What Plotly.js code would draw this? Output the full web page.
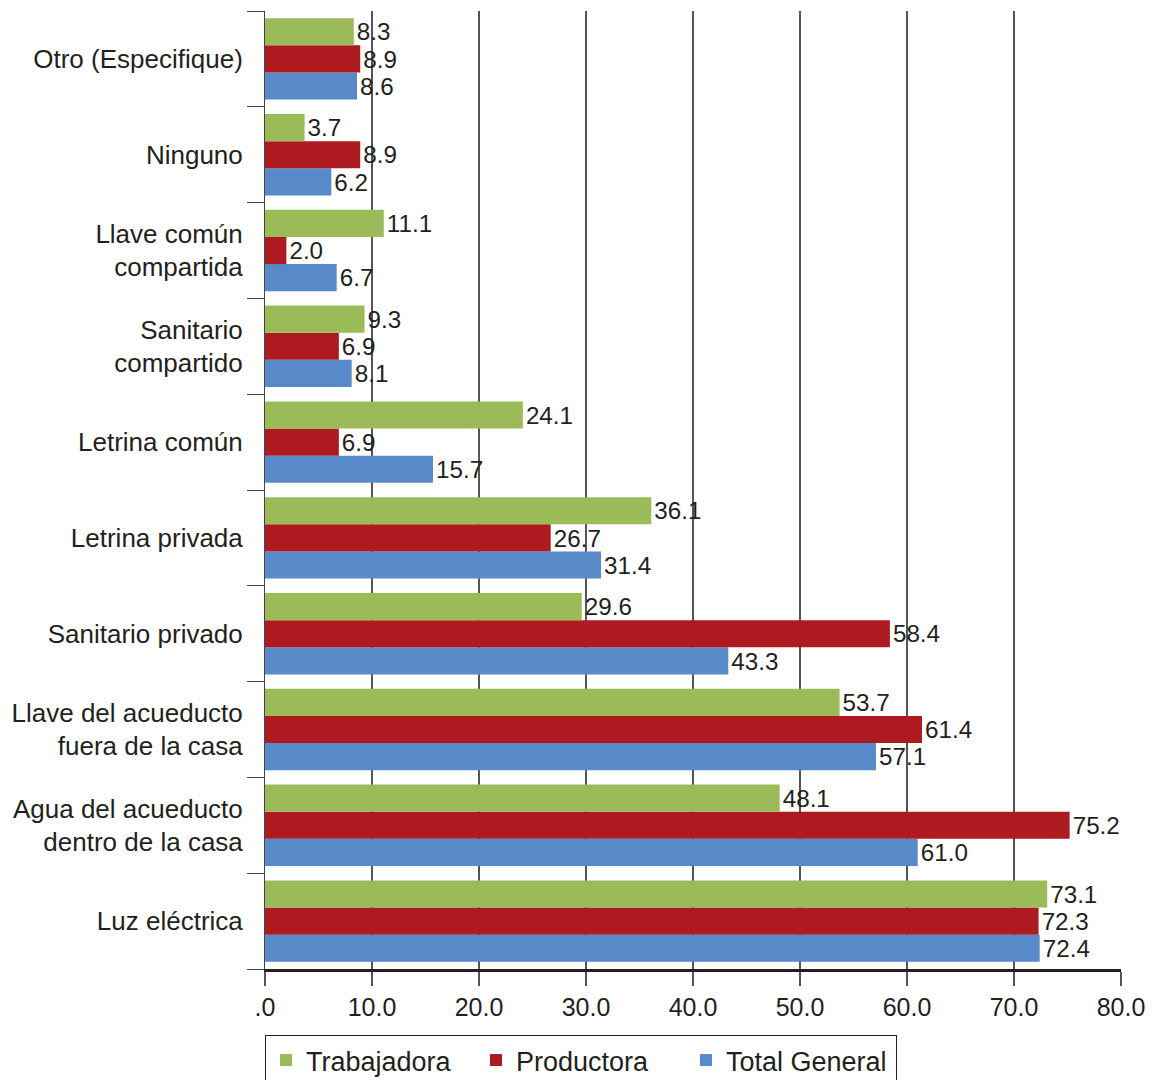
<!DOCTYPE html>
<html>
<head>
<meta charset="utf-8">
<script src="https://cdn.plot.ly/plotly-3.0.1.min.js"></script>
<style>
  body { margin: 0; background: #fff; }
  #chart { width: 1156px; height: 1080px; }
</style>
</head>
<body>
<div id="chart"></div>
<script>
// categories, bottom to top as drawn
var categories = [
  "Luz eléctrica",
  "Agua del acueducto<br>dentro de la casa",
  "Llave del acueducto<br>fuera de la casa",
  "Sanitario privado",
  "Letrina privada",
  "Letrina común",
  "Sanitario<br>compartido",
  "Llave común<br>compartida",
  "Ninguno",
  "Otro (Especifique)"
];

var trabajadora = [73.1, 48.1, 53.7, 29.6, 36.1, 24.1, 9.3, 11.1, 3.7, 8.3];
var productora = [72.3, 75.2, 61.4, 58.4, 26.7, 6.9, 6.9, 2.0, 8.9, 8.9];
var total_general = [72.4, 61.0, 57.1, 43.3, 31.4, 15.7, 8.1, 6.7, 6.2, 8.6];

var tick_vals = [0, 10, 20, 30, 40, 50, 60, 70, 80];
var tick_text = [".0", "10.0", "20.0", "30.0", "40.0", "50.0", "60.0", "70.0", "80.0"];

var font_family = "'Liberation Sans', Arial, sans-serif";

function barTrace(name, values, color) {
  return {
    type: 'bar',
    orientation: 'h',
    name: name,
    y: categories,
    x: values,
    marker: {color: color, line: {width: 0}},
    text: values.map(function (v) { return v.toFixed(1); }),
    textposition: 'outside',
    cliponaxis: false,
    textfont: {size: 25, color: '#231f20', family: font_family}
  };
}

// first trace sits lowest in each group, so blue goes first
var data = [
  barTrace('Total General', total_general, '#5889c8'),
  barTrace('Productora', productora, '#ad1a20'),
  barTrace('Trabajadora', trabajadora, '#9bbb59')
];

var layout = {
  width: 1156,
  height: 1080,
  margin: {l: 265, r: 35, t: 11, b: 111},
  barmode: 'group',
  bargap: 0.15,
  bargroupgap: 0,
  paper_bgcolor: '#fff',
  plot_bgcolor: '#fff',
  font: {family: font_family, size: 25, color: '#231f20'},
  xaxis: {
    range: [0, 80],
    tickvals: tick_vals,
    ticktext: tick_text,
    showgrid: true,
    gridcolor: '#555',
    gridwidth: 2,
    zeroline: false,
    showline: true,
    linecolor: '#231f20',
    linewidth: 3,
    ticks: 'outside',
    ticklen: 14,
    tickwidth: 2,
    tickcolor: '#555',
    tickfont: {size: 25, family: font_family},
    automargin: false
  },
  yaxis: {
    type: 'category',
    showgrid: false,
    showline: true,
    linecolor: '#444',
    linewidth: 1,
    ticks: 'outside',
    tickson: 'boundaries',
    ticklen: 17,
    tickwidth: 1,
    tickcolor: '#444',
    ticklabelstandoff: 16,
    tickfont: {size: 26, family: font_family},
    automargin: false
  },
  showlegend: true,
  legend: {
    orientation: 'h',
    traceorder: 'reversed',
    xref: 'container',
    yref: 'container',
    x: 265 / 1156,
    xanchor: 'left',
    y: 45 / 1080,
    yanchor: 'top',
    bordercolor: '#231f20',
    borderwidth: 1,
    entrywidth: 165,
    itemwidth: 30,
    font: {size: 27, family: font_family}
  }
};

Plotly.newPlot('chart', data, layout, {displayModeBar: false});
</script>
</body>
</html>
